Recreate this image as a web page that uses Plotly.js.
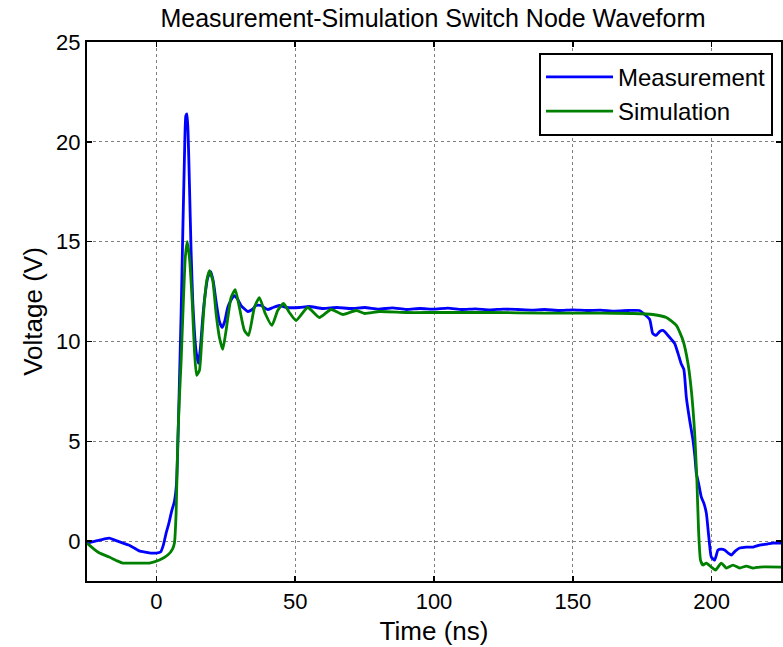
<!DOCTYPE html>
<html>
<head>
<meta charset="utf-8">
<script src="https://cdn.plot.ly/plotly-3.0.1.min.js"></script>
<style>html,body{margin:0;padding:0;background:#fff;}#chart{width:783px;height:647px;}</style>
</head>
<body>
<div id="chart"></div>
<script>
const measTime = [-25,-22,-19,-17,-15,-12,-10,-8,-6,-4,-2,0,1.5,2.5,3.5,4.5,5.5,6.5,7.2,7.7,8.3,8.9,9.5,10.1,10.6,11.0,11.4,11.9,12.5,13.1,13.7,14.3,15.1,15.8,16.7,17.6,18.5,19.6,20.5,21.5,22.7,23.7,24.6,25.7,27.0,28.1,29.3,30.5,32.9,34.5,35.9,37.7,40.1,42,44.3,47,51.5,55,60,65,70,75,80,85,90,95,100,105,110,115,120,125,130,135,140,145,150,155,160,165,170,174,175.5,177.7,178.8,180,181.3,182.5,184.3,185.5,186.7,187.9,189,190,190.9,192.1,193.3,194,194.5,195.3,196.3,197.2,198.1,199,199.9,201.1,202.3,203.5,204.7,206,207.1,208.5,210.1,212.5,215,217.3,220,222,225];
const measVolt = [-0.1,0.0,0.1,0.15,0.05,-0.1,-0.2,-0.35,-0.5,-0.55,-0.6,-0.6,-0.55,-0.2,0.4,0.9,1.5,2.0,2.8,4.7,8.0,11.4,15.4,19.2,21.3,21.4,20.5,17.9,14.5,12.0,10.5,9.5,8.9,9.6,11.2,12.4,13.2,13.5,13.0,12.0,11.0,10.7,11.0,11.7,12.1,12.3,12.1,11.8,11.5,11.6,11.8,11.8,11.6,11.7,11.8,11.7,11.7,11.75,11.65,11.7,11.65,11.7,11.62,11.68,11.6,11.65,11.62,11.67,11.6,11.63,11.58,11.62,11.6,11.57,11.6,11.55,11.58,11.55,11.57,11.52,11.55,11.55,11.4,11.1,10.4,10.3,10.5,10.55,10.3,10.1,9.9,9.4,8.9,8.6,7.2,6.05,5.05,4.2,3.4,2.9,2.2,1.9,1.4,0.2,-0.8,-0.95,-0.45,-0.4,-0.45,-0.6,-0.7,-0.5,-0.35,-0.3,-0.3,-0.2,-0.15,-0.1,-0.1];
const simTime = [-25,-22.5,-20.5,-17,-14,-12.1,-8,-2.5,1.1,4.1,5.8,6.5,7.1,7.7,8.3,8.9,9.5,10.4,11.1,11.9,12.9,13.7,14.5,15.5,16.4,17.3,18.2,19.1,20.3,21.5,22.7,23.9,25.1,26.9,28.4,29.9,31.7,33.2,35.3,37.1,39.2,41.6,43.7,45.8,47.9,50.3,54.5,58.7,62.9,67.1,72,75,80.4,90,100,120,140,160,171.6,178.8,183.7,187.3,189.7,191.5,192.7,193.9,194.7,195.3,196,196.9,198.1,199.9,201.4,203.5,205.3,207.7,210.1,212.5,214.9,217.3,225];
const simVolt = [-0.1,-0.4,-0.6,-0.8,-1.0,-1.1,-1.1,-1.1,-0.95,-0.7,-0.4,-0.1,1.4,5.05,7.2,9.0,11.2,14.2,15.0,14.2,12.0,9.55,8.3,8.55,10.2,12.0,13.1,13.55,13.05,11.4,10.2,9.6,10.55,12.2,12.6,11.7,10.55,10.3,11.7,12.2,11.4,10.8,11.55,11.9,11.45,11.05,11.7,11.2,11.6,11.35,11.55,11.4,11.5,11.45,11.45,11.45,11.42,11.42,11.4,11.35,11.2,10.8,10.05,8.9,7.55,5.4,3.05,0.55,-0.95,-1.2,-1.1,-1.3,-1.45,-1.1,-1.35,-1.2,-1.35,-1.25,-1.35,-1.3,-1.3];
const xTicks = [0,50,100,150,200];
const yTicks = [0,5,10,15,20,25];
const seriesNames = ['Measurement','Simulation'];

const FONT = 'Arial, "Liberation Sans", Helvetica, sans-serif';
const traces = [
  {x: measTime, y: measVolt, name: seriesNames[0], type: 'scatter', mode: 'lines',
   line: {color: '#0000ff', width: 2.8, shape: 'spline', smoothing: 0.5}},
  {x: simTime, y: simVolt, name: seriesNames[1], type: 'scatter', mode: 'lines',
   line: {color: '#008000', width: 2.8, shape: 'spline', smoothing: 0.5}}
];
const axisCommon = {
  showline: true, linecolor: '#000', linewidth: 2, mirror: 'ticks',
  ticks: 'inside', ticklen: 5, tickwidth: 1.5, tickcolor: '#000',
  showgrid: true, gridcolor: '#808080', gridwidth: 1, griddash: 'dot',
  zeroline: false, tickfont: {family: FONT, size: 22, color: '#000'}
};
const layout = {
  width: 783, height: 647,
  margin: {l: 87, r: 2, t: 42, b: 66},
  paper_bgcolor: '#fff', plot_bgcolor: '#fff',
  font: {family: FONT, color: '#000'},
  title: {text: 'Measurement-Simulation Switch Node Waveform', font: {family: FONT, size: 25, color: '#000'},
          x: 0.553, xanchor: 'center', y: 0.972, yanchor: 'middle', yref: 'container'},
  xaxis: Object.assign({}, axisCommon, {range: [-25, 225], tickvals: xTicks,
          title: {text: 'Time (ns)', font: {family: FONT, size: 26, color: '#000'}, standoff: 8}}),
  yaxis: Object.assign({}, axisCommon, {range: [-2, 25], tickvals: yTicks,
          title: {text: 'Voltage (V)', font: {family: FONT, size: 26, color: '#000'}, standoff: 6}}),
  showlegend: true,
  legend: {x: 0.9885, xanchor: 'right', y: 0.98, yanchor: 'top',
           bgcolor: '#fff', bordercolor: '#000', borderwidth: 2,
           font: {family: FONT, size: 24, color: '#000'}, itemwidth: 67, tracegroupgap: 0}
};
Plotly.newPlot('chart', traces, layout, {displayModeBar: false, staticPlot: true});
</script>
</body>
</html>
